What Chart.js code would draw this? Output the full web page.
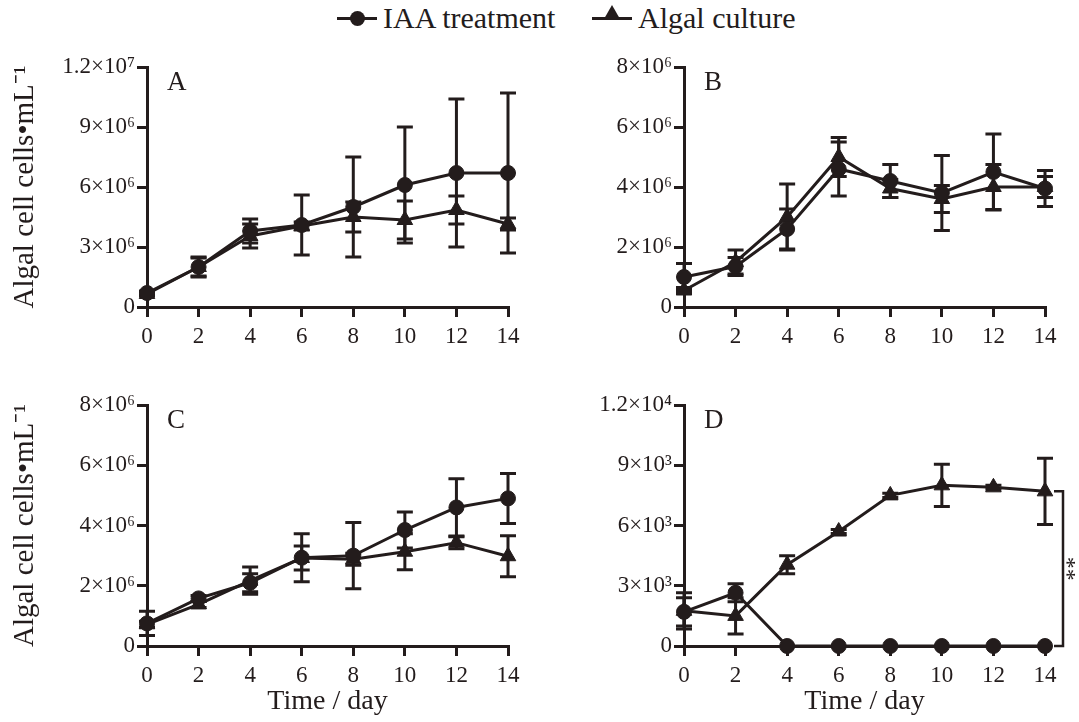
<!DOCTYPE html>
<html>
<head>
<meta charset="utf-8">
<script src="https://cdn.jsdelivr.net/npm/chart.js@4.4.1/dist/chart.umd.min.js"></script>
<style>
  body { margin: 0; background: #fff; width: 1079px; height: 722px; overflow: hidden; position: relative; }
  canvas { position: absolute; }
  .leg { position: absolute; top: 1px; height: 34px; display: flex; align-items: center;
         font-family: 'Liberation Serif', serif; font-size: 30px; color: #231c1c; white-space: nowrap; }
  .sym { position: relative; width: 40px; height: 34px; margin-right: 6px; }
  .sym .ln { position: absolute; left: 0; right: 0; top: 16px; height: 2.5px; background: #231c1c; }
  .sym .dot { position: absolute; left: 13px; top: 10px; width: 15px; height: 15px; border-radius: 50%; background: #231c1c; }
  .sym .tri { position: absolute; left: 12px; top: 4px; width: 0; height: 0;
              border-left: 8px solid transparent; border-right: 8px solid transparent; border-bottom: 14px solid #231c1c; }
</style>
</head>
<body>
<div class="leg" style="left:337px"><span class="sym"><span class="ln"></span><span class="dot"></span></span>IAA treatment</div>
<div class="leg" style="left:592px"><span class="sym"><span class="ln"></span><span class="tri"></span></span>Algal culture</div>

<canvas id="pA" width="540" height="360" style="left:0;top:0"></canvas>
<canvas id="pB" width="539" height="360" style="left:540px;top:0"></canvas>
<canvas id="pC" width="540" height="362" style="left:0;top:360px"></canvas>
<canvas id="pD" width="539" height="362" style="left:540px;top:360px"></canvas>

<script>
// sampling days
const days = [0, 2, 4, 6, 8, 10, 12, 14];

// panel A
const iaaA     = [0.7e6, 2.0e6, 3.8e6, 4.1e6, 5.0e6, 6.1e6, 6.7e6, 6.7e6];
const iaaAErr  = [0.1e6, 0.45e6, 0.6e6, 1.5e6, 2.5e6, 2.9e6, 3.7e6, 4.0e6];
const algaA    = [0.65e6, 2.0e6, 3.55e6, 4.05e6, 4.5e6, 4.35e6, 4.85e6, 4.15e6];
const algaAErr = [0.1e6, 0.5e6, 0.6e6, 0.2e6, 0.75e6, 0.95e6, 0.7e6, 0.3e6];

// panel B
const iaaB     = [1.0e6, 1.35e6, 2.6e6, 4.6e6, 4.2e6, 3.8e6, 4.5e6, 3.95e6];
const iaaBErr  = [0.45e6, 0.3e6, 0.67e6, 0.9e6, 0.55e6, 1.25e6, 1.27e6, 0.6e6];
const algaB    = [0.55e6, 1.5e6, 3.0e6, 5.0e6, 3.95e6, 3.6e6, 4.0e6, 4.0e6];
const algaBErr = [0.1e6, 0.4e6, 1.1e6, 0.65e6, 0.3e6, 0.45e6, 0.75e6, 0.35e6];

// panel C
const iaaC     = [0.75e6, 1.58e6, 2.1e6, 2.93e6, 3.0e6, 3.85e6, 4.6e6, 4.9e6];
const iaaCErr  = [0.4e6, 0.1e6, 0.3e6, 0.8e6, 1.1e6, 0.6e6, 0.95e6, 0.83e6];
const algaC    = [0.72e6, 1.38e6, 2.17e6, 2.92e6, 2.88e6, 3.13e6, 3.43e6, 2.98e6];
const algaCErr = [0.1e6, 0.1e6, 0.45e6, 0.4e6, 0.2e6, 0.6e6, 0.2e6, 0.68e6];

// panel D
const iaaD     = [1.7e3, 2.65e3, 0, 0, 0, 0, 0, 0];
const iaaDErr  = [0.7e3, 0.45e3, 0, 0, 0, 0, 0, 0];
const algaD    = [1.75e3, 1.5e3, 4.05e3, 5.7e3, 7.5e3, 8.0e3, 7.9e3, 7.7e3];
const algaDErr = [0.9e3, 0.9e3, 0.45e3, 0.1e3, 0.1e3, 1.05e3, 0.1e3, 1.65e3];

// y tick labels
const ticksA = ['0', '3×10⁶', '6×10⁶', '9×10⁶', '1.2×10⁷'];
const ticksB = ['0', '2×10⁶', '4×10⁶', '6×10⁶', '8×10⁶'];
const ticksC = ['0', '2×10⁶', '4×10⁶', '6×10⁶', '8×10⁶'];
const ticksD = ['0', '3×10³', '6×10³', '9×10³', '1.2×10⁴'];

const ink = '#231c1c';
const serif = 'Liberation Serif';

// error bars drawn under the markers
const errorBars = {
  id: 'errorBars',
  beforeDatasetsDraw(chart) {
    const ctx = chart.ctx, xs = chart.scales.x, ys = chart.scales.y;
    ctx.save();
    ctx.strokeStyle = ink;
    ctx.lineWidth = 3;
    chart.data.datasets.forEach(ds => {
      ds.data.forEach((p, i) => {
        const e = ds.errors[i];
        if (!e) return;
        const px = xs.getPixelForValue(p.x);
        const top = ys.getPixelForValue(p.y + e);
        const bot = ys.getPixelForValue(p.y - e);
        ctx.beginPath();
        ctx.moveTo(px, top); ctx.lineTo(px, bot);
        ctx.moveTo(px - 8, top); ctx.lineTo(px + 8, top);
        ctx.moveTo(px - 8, bot); ctx.lineTo(px + 8, bot);
        ctx.stroke();
      });
    });
    ctx.restore();
  }
};

// panel letter and the ** bracket of panel D
const panelMark = {
  id: 'panelMark',
  afterDraw(chart, args, opts) {
    const ctx = chart.ctx, a = chart.chartArea;
    ctx.save();
    ctx.fillStyle = ink;
    ctx.font = '27px "' + serif + '"';
    ctx.textBaseline = 'middle';
    ctx.fillText(opts.letter, a.left + 20, a.top + 16);
    if (opts.bracket) {
      const ys = chart.scales.y;
      const n = days.length - 1;
      const yTop = ys.getPixelForValue(chart.data.datasets[1].data[n].y);
      const yBot = ys.getPixelForValue(chart.data.datasets[0].data[n].y);
      const bx = a.right + 18;
      ctx.strokeStyle = ink;
      ctx.lineWidth = 2.5;
      ctx.beginPath();
      ctx.moveTo(bx - 9, yTop); ctx.lineTo(bx, yTop); ctx.lineTo(bx, yBot); ctx.lineTo(bx - 9, yBot);
      ctx.stroke();
      ctx.translate(bx + 3, (yTop + yBot) / 2);
      ctx.rotate(Math.PI / 2);
      ctx.textAlign = 'center';
      ctx.textBaseline = 'middle';
      ctx.font = '24px "' + serif + '"';
      ctx.fillText('**', 0, 0);
    }
    ctx.restore();
  }
};

function series(label, vals, errs, style, radius) {
  return {
    label: label,
    data: days.map((d, i) => ({ x: d, y: vals[i] })),
    errors: errs,
    borderColor: ink,
    backgroundColor: ink,
    borderWidth: 3,
    pointStyle: style,
    pointRadius: radius,
    pointBorderWidth: 1,
    tension: 0,
    clip: false
  };
}

function axisBase() {
  return {
    grid: { display: true, drawOnChartArea: false, drawTicks: true, tickLength: 10, lineWidth: 3, color: ink },
    border: { display: true, width: 3, color: ink }
  };
}

function makePanel(id, p) {
  const canvas = document.getElementById(id);
  const cw = canvas.width, ch = canvas.height;
  const xAxis = axisBase(), yAxis = axisBase();

  Object.assign(xAxis, {
    type: 'linear', min: 0, max: 14,
    ticks: { stepSize: 2, maxRotation: 0, padding: 6, color: ink, font: { family: serif, size: 23 } },
    title: { display: !!p.xTitle, text: p.xTitle, color: ink, font: { family: serif, size: 28 }, padding: { top: 0, bottom: 4 } },
    afterFit(s) { s.height = ch - p.bottom; s.paddingLeft = 0; s.paddingRight = 0; }
  });
  Object.assign(yAxis, {
    min: 0, max: p.max,
    ticks: { stepSize: p.max / 4, autoSkip: false, padding: 2, color: ink, font: { family: serif, size: 23 },
             callback: (v, i) => p.ticks[i] },
    title: { display: !!p.yTitle, text: p.yTitle, color: ink, font: { family: serif, size: 29 }, padding: { top: 8, bottom: 0 } },
    afterFit(s) { s.width = p.left; s.paddingTop = 0; s.paddingBottom = 0; }
  });

  return new Chart(canvas, {
    type: 'line',
    data: {
      datasets: [
        series('IAA treatment', p.iaa, p.iaaErr, 'circle', 7.5),
        series('Algal culture', p.alga, p.algaErr, 'triangle', 9)
      ]
    },
    options: {
      responsive: false,
      animation: false,
      devicePixelRatio: 1,
      layout: { padding: { top: p.top, right: cw - p.right, bottom: 0, left: 0 } },
      scales: { x: xAxis, y: yAxis },
      plugins: {
        legend: { display: false },
        tooltip: { enabled: false },
        panelMark: { letter: p.letter, bracket: p.bracket }
      }
    },
    plugins: [errorBars, panelMark]
  });
}

const yTitle = 'Algal cell cells•mL⁻¹';

makePanel('pA', { letter: 'A', iaa: iaaA, iaaErr: iaaAErr, alga: algaA, algaErr: algaAErr,
  max: 1.2e7, ticks: ticksA, yTitle: yTitle, xTitle: '', left: 147, right: 508, top: 67, bottom: 307 });
makePanel('pB', { letter: 'B', iaa: iaaB, iaaErr: iaaBErr, alga: algaB, algaErr: algaBErr,
  max: 8e6, ticks: ticksB, yTitle: '', xTitle: '', left: 144, right: 505, top: 67, bottom: 307 });
makePanel('pC', { letter: 'C', iaa: iaaC, iaaErr: iaaCErr, alga: algaC, algaErr: algaCErr,
  max: 8e6, ticks: ticksC, yTitle: yTitle, xTitle: 'Time / day', left: 147, right: 508, top: 45, bottom: 286 });
makePanel('pD', { letter: 'D', iaa: iaaD, iaaErr: iaaDErr, alga: algaD, algaErr: algaDErr,
  max: 1.2e4, ticks: ticksD, yTitle: '', xTitle: 'Time / day', left: 144, right: 505, top: 45, bottom: 286, bracket: true });
</script>
</body>
</html>
